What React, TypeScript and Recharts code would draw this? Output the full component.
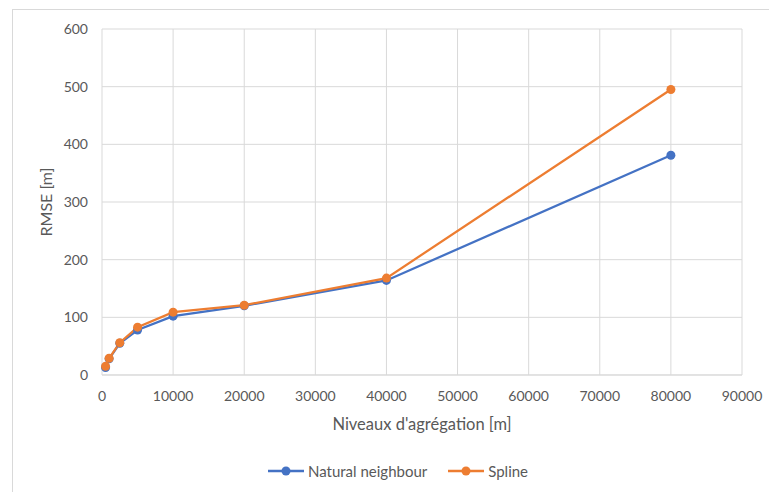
import React from "react";
import {
  LineChart,
  Line,
  XAxis,
  YAxis,
  CartesianGrid,
  Legend,
} from "recharts";

// Aggregation levels [m] and RMSE [m] of each interpolation method
const levels = [500, 1000, 2500, 5000, 10000, 20000, 40000, 80000];
const naturalNeighbour = [13, 28, 55, 78, 102, 120, 164, 381];
const spline = [15, 29, 56, 83, 109, 121, 168, 495];

const xTicks = [0, 10000, 20000, 30000, 40000, 50000, 60000, 70000, 80000, 90000];
const yTicks = [0, 100, 200, 300, 400, 500, 600];

const seriesNames = ["Natural neighbour", "Spline"];
const BLUE = "#4472C4";
const ORANGE = "#ED7D31";
const TEXT = "#595959";
const GRID = "#d9d9d9";
const FONT = "Lato, 'Open Sans', sans-serif";

const data = levels.map((x, i) => ({
  x,
  nn: naturalNeighbour[i],
  sp: spline[i],
}));

const LegendContent = () => {
  const items = [
    { name: seriesNames[0], color: BLUE },
    { name: seriesNames[1], color: ORANGE },
  ];
  return (
    <div
      style={{
        display: "flex",
        justifyContent: "center",
        alignItems: "center",
        fontFamily: FONT,
        fontSize: 15,
        color: TEXT,
        paddingLeft: 54,
        paddingTop: 27,
      }}
    >
      {items.map((it, i) => (
        <div
          key={it.name}
          style={{ display: "flex", alignItems: "center", marginLeft: i ? 21 : 0 }}
        >
          <svg width={36} height={12} style={{ marginRight: 4 }}>
            <line x1={0} y1={6} x2={36} y2={6} stroke={it.color} strokeWidth={2.5} />
            <circle cx={18} cy={6} r={4.5} fill={it.color} />
          </svg>
          <span>{it.name}</span>
        </div>
      ))}
    </div>
  );
};

export default function App() {
  return (
    <div
      style={{
        position: "fixed",
        left: 0,
        top: 0,
        width: 769,
        height: 492,
        overflow: "hidden",
        background: "#fff",
      }}
    >
      <div
        style={{
          position: "absolute",
          left: 12,
          top: 9,
          width: 900,
          height: 700,
          border: `1px solid ${GRID}`,
          boxSizing: "border-box",
        }}
      />
      <div style={{ position: "absolute", left: 0, top: 0 }}>
        <LineChart
          width={769}
          height={492}
          data={data}
          margin={{ top: 29, right: 27, bottom: 0, left: 0 }}
        >
          <CartesianGrid stroke={GRID} strokeWidth={1} />
          <XAxis
            dataKey="x"
            type="number"
            domain={[0, 90000]}
            ticks={xTicks}
            interval={0}
            height={60}
            tickSize={0}
            tickMargin={16}
            axisLine={{ stroke: GRID }}
            tick={{ fill: TEXT, fontSize: 14, fontFamily: FONT }}
            label={{
              value: "Niveaux d'agrégation [m]",
              position: "insideBottom",
              offset: 5,
              fill: TEXT,
              fontSize: 16.5,
              fontFamily: FONT,
            }}
          />
          <YAxis
            type="number"
            domain={[0, 600]}
            ticks={yTicks}
            interval={0}
            width={102}
            tickSize={0}
            tickMargin={14}
            axisLine={false}
            tick={{ fill: TEXT, fontSize: 14, fontFamily: FONT }}
            label={{
              value: "RMSE [m]",
              angle: -90,
              position: "insideLeft",
              offset: 46,
              fill: TEXT,
              fontSize: 16,
              fontFamily: FONT,
              style: { textAnchor: "middle" },
            }}
          />
          <Legend
            verticalAlign="bottom"
            height={57}
            content={<LegendContent />}
          />
          <Line
            dataKey="nn"
            name={seriesNames[0]}
            stroke={BLUE}
            strokeWidth={2.25}
            dot={{ r: 4.5, fill: BLUE, stroke: BLUE, strokeWidth: 0 }}
            activeDot={false}
            isAnimationActive={false}
          />
          <Line
            dataKey="sp"
            name={seriesNames[1]}
            stroke={ORANGE}
            strokeWidth={2.25}
            dot={{ r: 4.5, fill: ORANGE, stroke: ORANGE, strokeWidth: 0 }}
            activeDot={false}
            isAnimationActive={false}
          />
        </LineChart>
      </div>
    </div>
  );
}
